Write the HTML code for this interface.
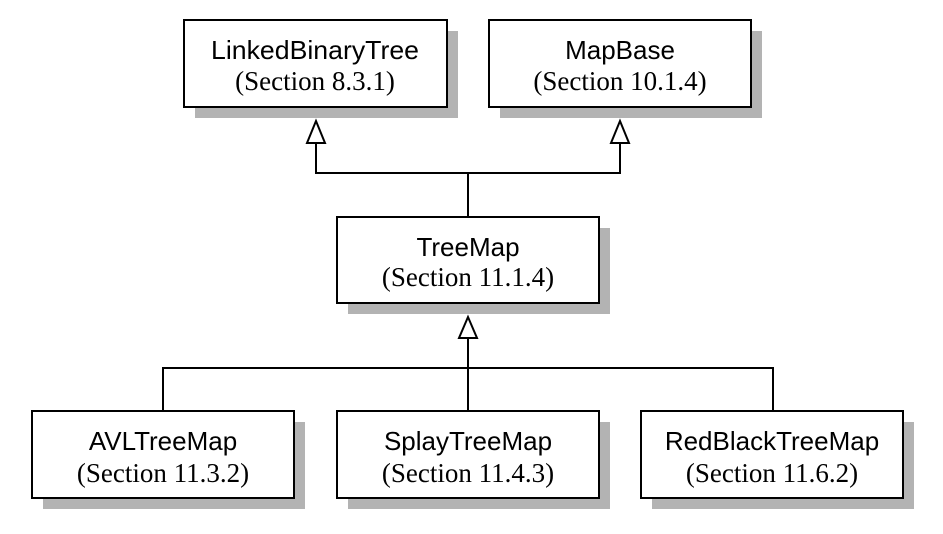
<!DOCTYPE html>
<html><head><style>
body{margin:0;background:#fff;width:943px;height:529px;overflow:hidden}
</style></head><body>
<svg width="943" height="529" xmlns="http://www.w3.org/2000/svg">
<g fill="#b3b3b3">
<rect x="195" y="31" width="263" height="87"/>
<rect x="500" y="31" width="262" height="87"/>
<rect x="348" y="228" width="262" height="86"/>
<rect x="43" y="422" width="262" height="87"/>
<rect x="348" y="422" width="262" height="87"/>
<rect x="652" y="422" width="262" height="87"/>
</g>
<g fill="#fff" stroke="#000" stroke-width="2">
<rect x="184" y="20" width="263" height="87"/>
<rect x="489" y="20" width="262" height="87"/>
<rect x="337" y="217" width="262" height="86"/>
<rect x="32" y="411" width="262" height="87"/>
<rect x="337" y="411" width="262" height="87"/>
<rect x="641" y="411" width="262" height="87"/>
</g>
<g fill="none" stroke="#000" stroke-width="2">
<polyline points="316,143 316,173 620,173 620,143"/>
<line x1="468" y1="173" x2="468" y2="217"/>
<polyline points="163,411 163,368 773,368 773,411"/>
<line x1="468" y1="338" x2="468" y2="411"/>
</g>
<g fill="#fff" stroke="#000" stroke-width="2">
<polygon points="316,121 307,143 325,143"/>
<polygon points="620,121 611,143 629,143"/>
<polygon points="468,317 459,338 477,338"/>
</g>
<g text-anchor="middle">
<g font-family="Liberation Sans, DejaVu Sans, sans-serif" font-size="26">
<text x="315" y="59" textLength="208" lengthAdjust="spacingAndGlyphs">LinkedBinaryTree</text>
<text x="620" y="59">MapBase</text>
<text x="468" y="256">TreeMap</text>
<text x="163" y="450">AVLTreeMap</text>
<text x="468" y="450">SplayTreeMap</text>
<text x="772" y="450">RedBlackTreeMap</text>
</g>
<g font-family="Liberation Serif, serif" font-size="27">
<text x="315" y="90">(Section 8.3.1)</text>
<text x="620" y="90">(Section 10.1.4)</text>
<text x="468" y="286">(Section 11.1.4)</text>
<text x="163" y="482">(Section 11.3.2)</text>
<text x="468" y="482">(Section 11.4.3)</text>
<text x="772" y="482">(Section 11.6.2)</text>
</g>
</g>
</svg>
</body></html>
